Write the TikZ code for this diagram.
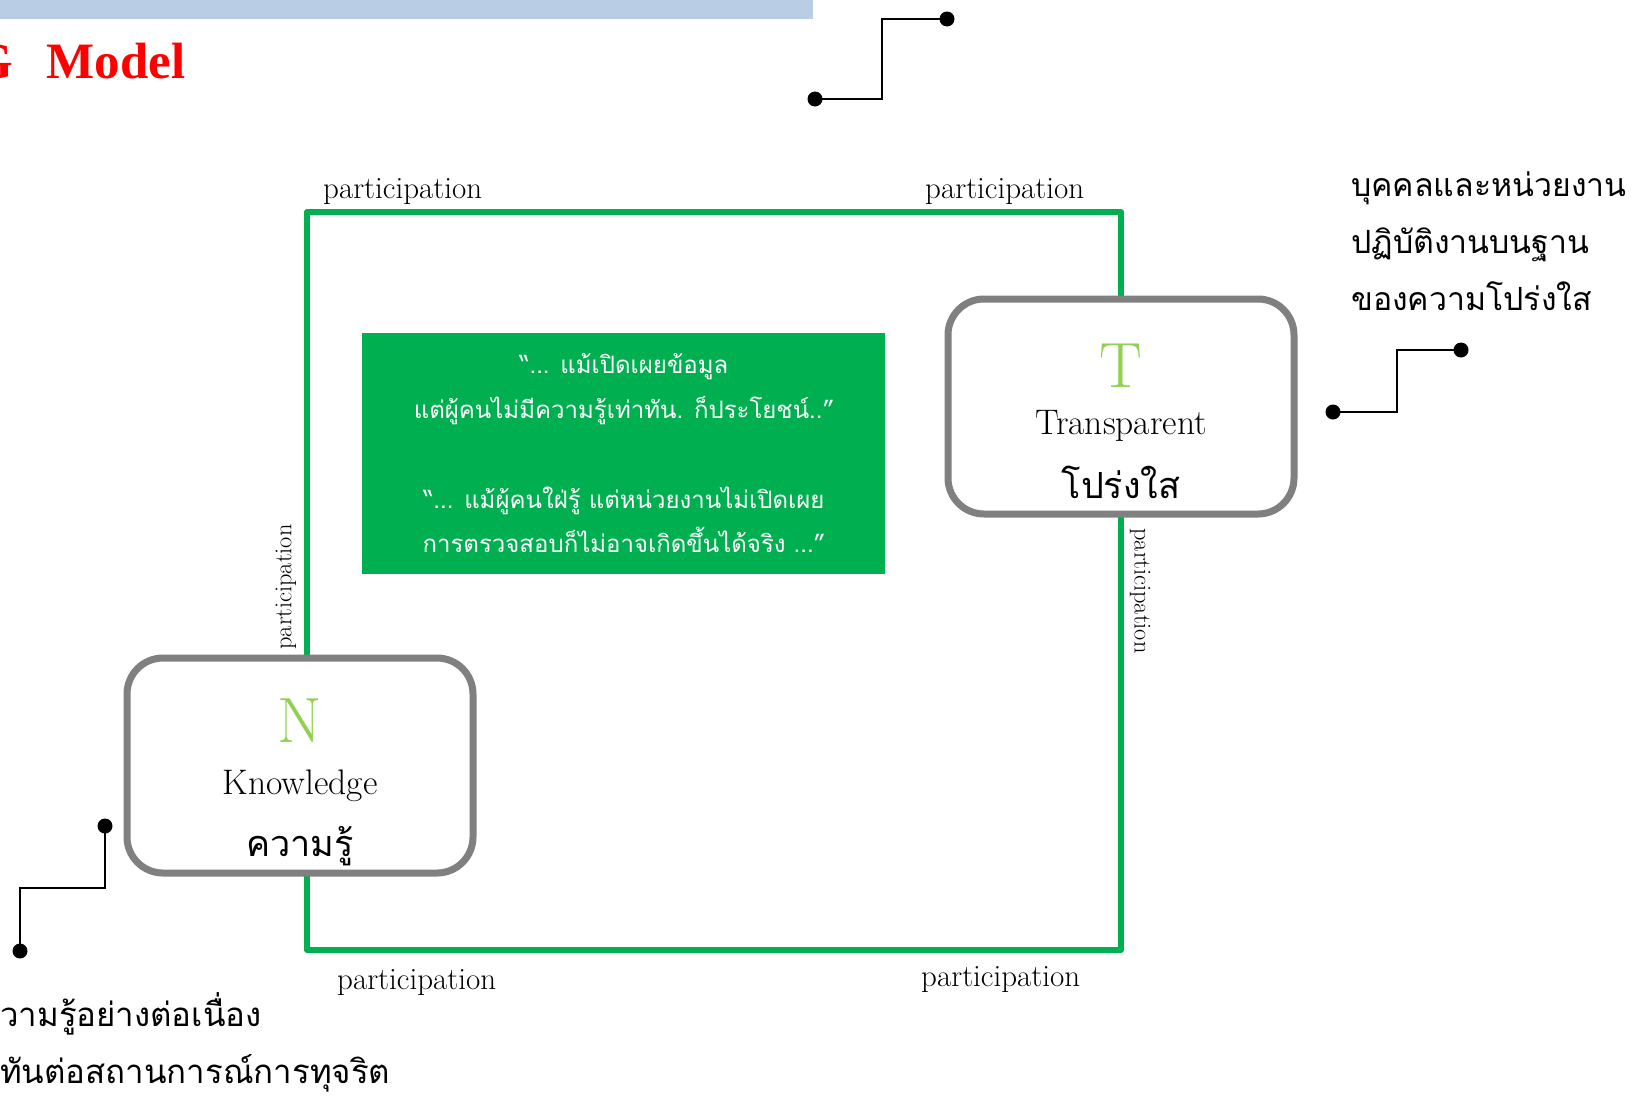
\documentclass[tikz,border=0pt]{standalone}
\usepackage{fontspec}
\newfontfamily\thai[Script=Thai]{Loma}
\newfontfamily\redserif{Liberation Serif}
\definecolor{officegreen}{HTML}{00B050}
\definecolor{lightgreen}{HTML}{92D050}
\definecolor{boxgray}{HTML}{808080}
\definecolor{banner}{HTML}{B9CDE5}
\definecolor{titlered}{HTML}{FF0000}
\tikzset{
  greenline/.style={draw=officegreen,line width=6pt,line join=round},
  letterbox/.style={draw=boxgray,fill=white,line width=7pt,rounded corners=36pt,
     minimum width=346pt,minimum height=215pt,inner sep=0pt},
  quotebox/.style={fill=officegreen,minimum width=523pt,minimum height=241pt,inner sep=0pt},
  part/.style={inner sep=0pt,font=\fontsize{31}{33}\selectfont},
  vpart/.style={inner sep=0pt,font=\fontsize{24.4}{26}\selectfont},
  bigletter/.style={inner sep=0pt,text=lightgreen,anchor=base,font=\fontsize{64}{70}\selectfont},
  engword/.style={inner sep=0pt,anchor=base,font=\fontsize{35.5}{38}\selectfont},
  thaiword/.style={inner sep=0pt,anchor=base,font=\thai\fontsize{36}{40}\selectfont},
  quoteline/.style={inner sep=0pt,anchor=base,text=white,font=\thai\fontsize{24}{27}\selectfont},
  sidetext/.style={inner sep=0pt,anchor=base west,font=\thai\fontsize{32}{34}\selectfont},
  pointer/.style={draw=black,line width=2pt},
  dot/.style={circle,fill=black,inner sep=0pt,minimum size=15pt},
}
\begin{document}
\begin{tikzpicture}[x=1pt,y=-1pt]
\useasboundingbox (0,0) rectangle (1633,1095);
\clip (0,0) rectangle (1633,1095);
\fill[white] (0,0) rectangle (1633,1095);
% banner and title
\fill[banner] (0,0) rectangle (813,19);
\node[inner sep=0pt,anchor=base west,text=titlered,font=\redserif\bfseries\fontsize{51}{55}\selectfont] (title) at (-27,78) {G\hspace{34pt}Model};
% green frame
\coordinate (c1) at (307,212);
\coordinate (c2) at (1121,212);
\coordinate (c3) at (1121,950);
\coordinate (c4) at (307,950);
\draw[greenline] (c1) -- (c2) -- (c3) -- (c4) -- cycle;
% quote box
\node[quotebox] (quote) at (623.5,453.5) {};
\node[quoteline] (q1) at (624,373) {“... แม้เปิดเผยข้อมูล};
\node[quoteline] (q2) at (624,418) {แต่ผู้คนไม่มีความรู้เท่าทัน. ก็ประโยชน์..”};
\node[quoteline] (q3) at (624,508) {“... แม้ผู้คนใฝ่รู้ แต่หน่วยงานไม่เปิดเผย};
\node[quoteline] (q4) at (624,552) {การตรวจสอบก็ไม่อาจเกิดขึ้นได้จริง ...”};
% letter boxes
\node[letterbox] (T) at (1121,406.5) {};
\node[bigletter] (Tl) at (1121,387) {T};
\node[engword] (Tw) at (1121,434) {Transparent};
\node[thaiword] (Tt) at (1121,498) {โปร่งใส};
\node[letterbox] (N) at (300,765.5) {};
\node[bigletter] (Nl) at (300,742) {N};
\node[engword] (Nw) at (300,794) {Knowledge};
\node[thaiword] (Nt) at (300,856) {ความรู้};
% participation labels
\node[part,anchor=base west] (p1) at (323,198) {participation};
\node[part,anchor=base west] (p2) at (925,198) {participation};
\node[part,anchor=base west] (p3) at (337,989) {participation};
\node[part,anchor=base west] (p4) at (921,986) {participation};
\node[vpart,rotate=90] (p5) at (286,587) {participation};
\node[vpart,rotate=-90] (p6) at (1140,591) {participation};
% side texts
\node[sidetext] (r1) at (1351,196) {บุคคลและหน่วยงาน};
\node[sidetext] (r2) at (1351,253) {ปฏิบัติงานบนฐาน};
\node[sidetext] (r3) at (1351,310) {ของความโปร่งใส};
\node[sidetext,font=\thai\fontsize{33}{35}\selectfont] (l1) at (0,1026) {วามรู้อย่างต่อเนื่อง};
\node[sidetext,font=\thai\fontsize{33}{35}\selectfont] (l2) at (0,1083) {ทันต่อสถานการณ์การทุจริต};
% pointers
\node[dot] (a1) at (815,99) {};
\node[dot] (b1) at (947,19) {};
\draw[pointer] (a1.center) -- ++(67,0) |- (b1.center);
\node[dot] (a2) at (1333,412) {};
\node[dot] (b2) at (1461,350) {};
\draw[pointer] (a2.center) -- ++(64,0) |- (b2.center);
\node[dot] (a3) at (105,826) {};
\node[dot] (b3) at (20,951) {};
\draw[pointer] (a3.center) -- ++(0,62) -| (b3.center);
\end{tikzpicture}
\end{document}
